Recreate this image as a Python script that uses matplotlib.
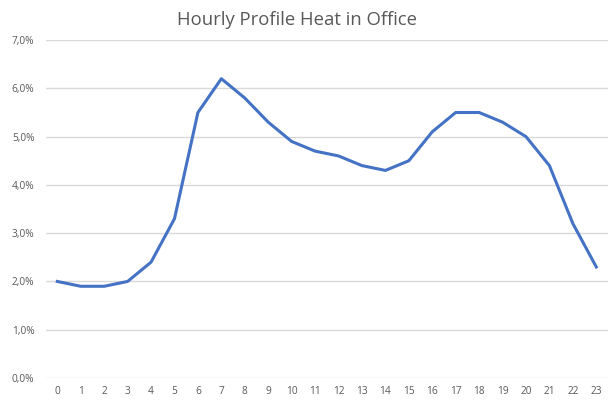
import numpy as np
import matplotlib.pyplot as plt
from matplotlib.ticker import FuncFormatter

# hourly heat share (%)
hours = list(range(24))
share = [2.0, 1.9, 1.9, 2.0, 2.4, 3.3, 5.5, 6.2, 5.8, 5.3, 4.9, 4.7,
         4.6, 4.4, 4.3, 4.5, 5.1, 5.5, 5.5, 5.3, 5.0, 4.4, 3.2, 2.3]
yticks = [0, 1, 2, 3, 4, 5, 6, 7]

plt.rcParams['font.family'] = ['Open Sans', 'DejaVu Sans']
txt = '#595959'

fig = plt.figure(figsize=(6.08, 4.05), dpi=100)
ax = fig.add_axes([0.075, 0.0667, 0.925, 0.8343])

ax.plot(hours, share, color='#4472C4', lw=2.2, solid_joinstyle='round')

ax.set_xlim(-0.5, 23.5)
ax.set_ylim(0, 7)
ax.set_xticks(hours)
ax.set_yticks(yticks)
ax.yaxis.set_major_formatter(FuncFormatter(lambda v, p: f'{v:.1f}%'.replace('.', ',')))
ax.grid(axis='y', color='#D9D9D9', lw=1)
ax.set_axisbelow(True)
for s in ax.spines.values():
    s.set_visible(False)
ax.tick_params(length=0, labelsize=7.3, labelcolor=txt)
ax.tick_params(axis='x', pad=6)
ax.tick_params(axis='y', pad=8)

fig.suptitle('Hourly Profile Heat in Office', x=0.489, y=0.972, fontsize=13.3, color=txt)

fig.savefig('out.png', dpi=100)
